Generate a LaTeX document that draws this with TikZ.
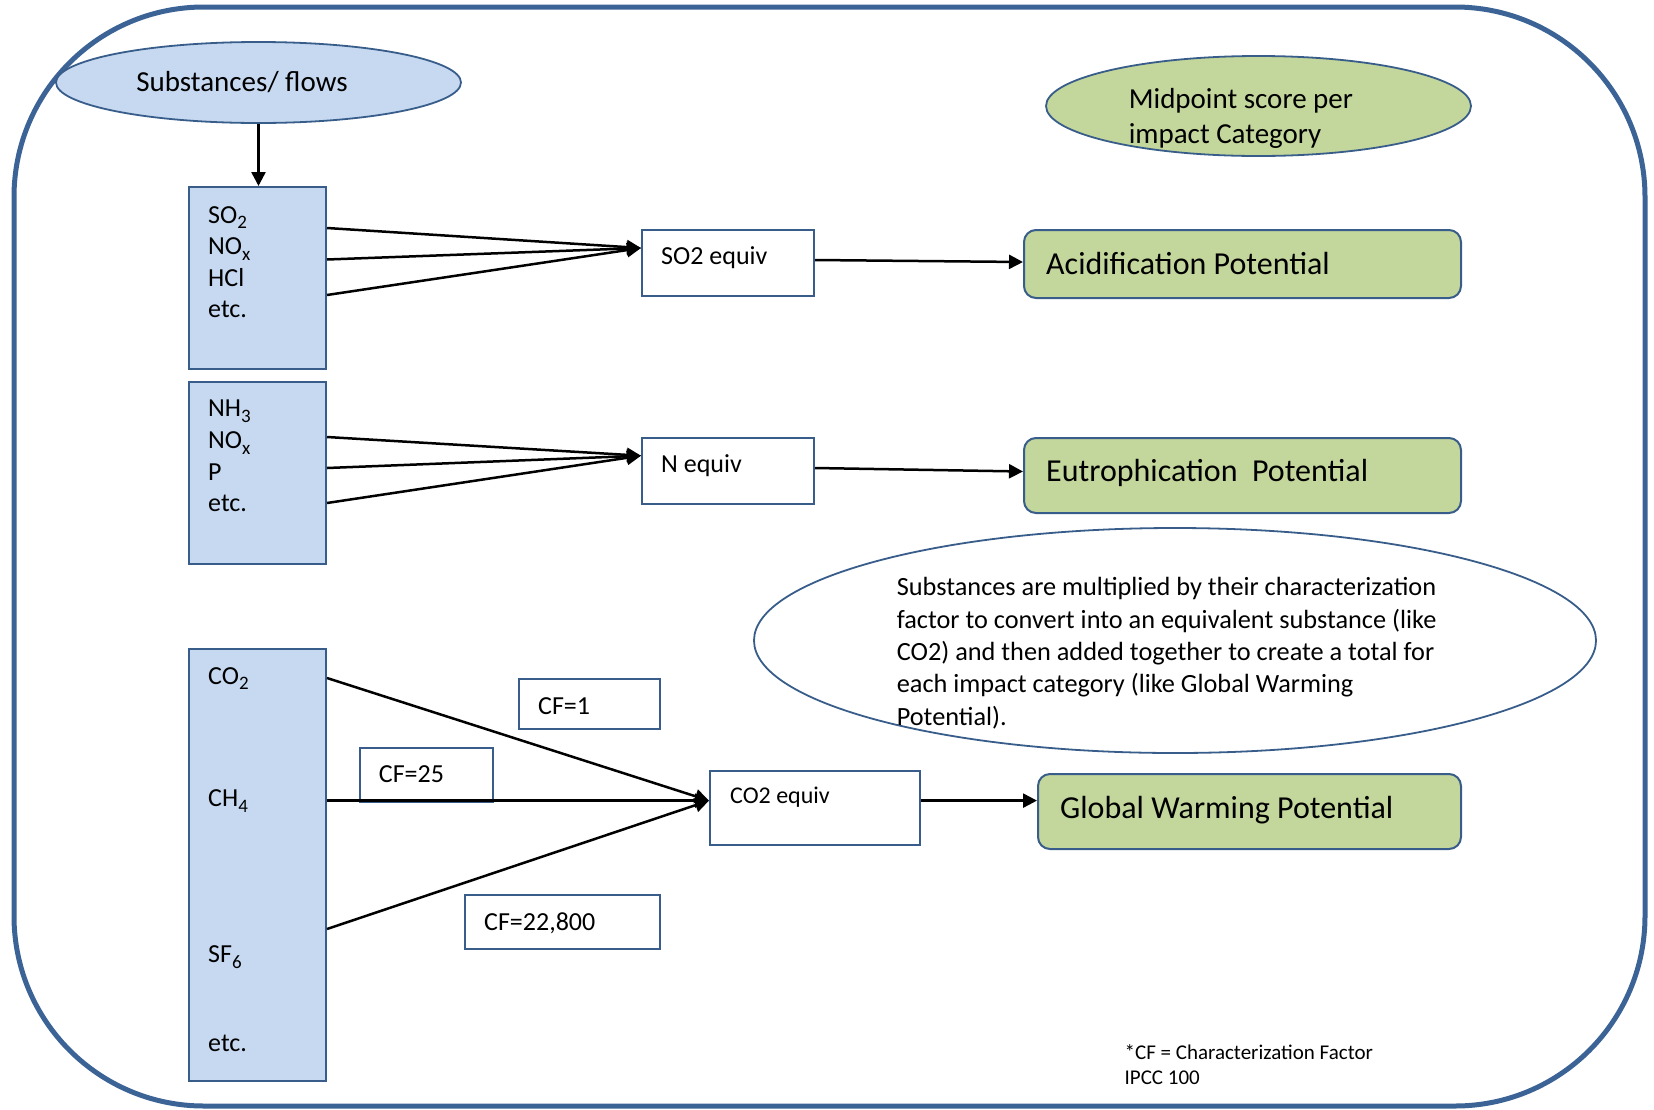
\documentclass[tikz,border=0pt]{standalone}
\usepackage{fontspec}
\setmainfont{Carlito}
\usetikzlibrary{shapes.geometric,arrows.meta}

\definecolor{frameblue}{RGB}{59,99,150}
\definecolor{edgeblue}{RGB}{56,93,138}
\definecolor{flowfill}{RGB}{198,217,241}
\definecolor{scorefill}{RGB}{195,214,155}

\newcommand{\lowidx}[1]{\raisebox{-5.5pt}{\fontsize{19}{19}\selectfont #1}}

\tikzset{
  outerframe/.style={draw=frameblue, line width=5pt, rounded corners=190pt},
  flowbox/.style={draw=edgeblue, line width=2pt, fill=flowfill, inner sep=0pt},
  equivbox/.style={draw=edgeblue, line width=2pt, fill=white, inner sep=0pt},
  scorebox/.style={draw=edgeblue, line width=2pt, fill=scorefill, rounded corners=12pt, inner sep=0pt},
  oval/.style={ellipse, draw=edgeblue, line width=1.8pt, inner sep=0pt},
  txt/.style={anchor=base west, inner sep=0pt, font=\fontsize{26}{31}\selectfont},
  bigtxt/.style={txt, font=\fontsize{32}{38}\selectfont},
  flow/.style={line width=2.5pt, -{Triangle[length=14pt,width=14pt]}},
}

\begin{document}
\begin{tikzpicture}[x=1pt,y=-1pt]
\useasboundingbox (0,0) rectangle (1654,1109);
% Outer frame
\draw[outerframe] (14,7) rectangle (1645,1106);

% Ellipses
\node[oval, fill=flowfill, minimum width=405pt, minimum height=81pt] (subst) at (258.5,82.5) {};
\node[txt, anchor=base, font=\fontsize{29}{35}\selectfont] (substtxt) at (242,91) {Substances/ flows};
\node[oval, fill=scorefill, minimum width=425pt, minimum height=100pt] (mid) at (1258.5,106) {};
\foreach \t [count=\i] in {Midpoint score per, impact Category}
  \node[txt, font=\fontsize{29}{35}\selectfont] (midtxt\i) at (1128.6,73+35*\i) {\t};
\node[oval, minimum width=842pt, minimum height=225pt] (note) at (1175,640.5) {};
\foreach \t [count=\i] in {{Substances are multiplied by their characterization},
    {factor to convert into an equivalent substance (like},
    {CO2) and then added together to create a total for},
    {each impact category (like Global Warming},
    {Potential).}}
  \node[txt, font=\fontsize{26.3}{31}\selectfont] (notetxt\i) at (896.6,563.3+32.4*\i) {\t};

% Substance boxes
\node[flowbox, minimum width=137pt, minimum height=182pt] (box1) at (257.5,278) {};
\foreach \t [count=\i] in {SO\lowidx{2}, NO\lowidx{x}, HCl, etc.}
  \node[txt] (acidsub\i) at (208,191.4+31.6*\i) {\t};
\node[flowbox, minimum width=137pt, minimum height=182pt] (box2) at (257.5,473) {};
\foreach \t [count=\i] in {NH\lowidx{3}, NO\lowidx{x}, P, etc.}
  \node[txt] (eutrosub\i) at (208,385.3+31.6*\i) {\t};
\node[flowbox, minimum width=137pt, minimum height=432pt] (box3) at (257.5,865) {};
\foreach \y/\t [count=\i] in {684/CO\lowidx{2}, 806.7/CH\lowidx{4}, 962.8/SF\lowidx{6}, 1051.2/etc.}
  \node[txt] (ghgsub\i) at (208,\y) {\t};

% Equivalent boxes
\node[equivbox, minimum width=172pt, minimum height=66pt] (so2eq) at (728,263) {};
\node[txt] (so2eqtxt) at (661,264) {SO2 equiv};
\node[equivbox, minimum width=172pt, minimum height=66pt] (neq) at (728,471) {};
\node[txt] (neqtxt) at (661,472) {N equiv};
\node[equivbox, minimum width=210pt, minimum height=74pt] (co2eq) at (815,808) {};
\node[txt, font=\fontsize{24}{29}\selectfont] (co2eqtxt) at (730,803.6) {CO2 equiv};

% Impact categories
\node[scorebox, minimum width=437pt, minimum height=68pt] (acid) at (1242.5,264) {};
\node[bigtxt] (acidtxt) at (1046,274) {Acidification Potential};
\node[scorebox, minimum width=437pt, minimum height=75pt] (eutro) at (1242.5,475.5) {};
\node[bigtxt] (eutrotxt) at (1046,481.6) {Eutrophication\ \ Potential};
\node[scorebox, minimum width=423pt, minimum height=75pt] (gwp) at (1249.5,811.5) {};
\node[bigtxt] (gwptxt) at (1060,818) {Global Warming Potential};

% Characterization factors
\node[equivbox, minimum width=141pt, minimum height=50pt] (cf1) at (589.5,704) {};
\node[txt] (cf1txt) at (538,714) {CF=1};
\node[equivbox, minimum width=133pt, minimum height=54pt] (cf25) at (426.5,775) {};
\node[txt] (cf25txt) at (378.7,782) {CF=25};
\node[equivbox, minimum width=195pt, minimum height=54pt] (cf228) at (562.5,922) {};
\node[txt] (cf228txt) at (484,930) {CF=22,800};

% Footnote
\node[txt, font=\fontsize{21}{25}\selectfont] (fn1) at (1124.4,1059.3) {*CF = Characterization Factor};
\node[txt, font=\fontsize{21}{25}\selectfont] (fn2) at (1124.4,1084.6) {IPCC 100};

% Connectors
\draw[flow] (subst.south) -- (subst.south |- box1.north);
\coordinate (so2in) at ([yshift=-19pt]so2eq.north west);
\foreach \d in {42,73.5,109}
  \draw[flow] ([yshift=-\d pt]box1.north east) -- (so2in);
\draw[flow] ([yshift=3pt]so2eq.east) -- ([yshift=2pt]acid.west);
\coordinate (nin) at ([yshift=-18.7pt]neq.north west);
\foreach \d in {56,87,122}
  \draw[flow] ([yshift=-\d pt]box2.north east) -- (nin);
\draw[flow] ([yshift=3pt]neq.east) -- ([yshift=4pt]eutro.west);
\coordinate (co2in) at ([yshift=-30.6pt]co2eq.north west);
\foreach \d in {30,152.6,281}
  \draw[flow] ([yshift=-\d pt]box3.north east) -- (co2in);
\coordinate (co2out) at ([yshift=-30.6pt]co2eq.north east);
\draw[flow] (co2out) -- (co2out -| gwp.west);
\end{tikzpicture}
\end{document}
